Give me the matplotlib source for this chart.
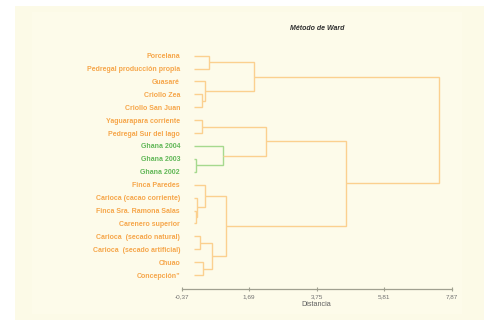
import matplotlib
matplotlib.use("Agg")
import matplotlib.pyplot as plt
from matplotlib.patches import Rectangle

labels = ["Porcelana", "Pedregal producción propia", "Guasaré", "Criollo Zea",
          "Criollo San Juan", "Yaguarapara corriente", "Pedregal Sur del lago",
          "Ghana 2004", "Ghana 2003", "Ghana 2002", "Finca Paredes",
          "Carioca (cacao corriente)", "Finca Sra. Ramona Salas", "Carenero superior",
          "Carioca  (secado natural)", "Carioca  (secado artificial)", "Chuao",
          "Concepción\u201d"]
leaf_green = [7, 8, 9]
# merges: (child_a, child_b, height); new node ids start at len(labels)
merges = [(3, 4, 0.24), (2, 18, 0.35), (0, 1, 0.47), (20, 19, 1.85),
          (5, 6, 0.24), (8, 9, 0.07), (7, 23, 0.90), (22, 24, 2.19),
          (12, 13, 0.07), (11, 26, 0.11), (10, 27, 0.34), (14, 15, 0.18),
          (16, 17, 0.29), (29, 30, 0.56), (28, 31, 0.97), (25, 32, 4.63),
          (21, 33, 7.49)]
green_nodes = [23, 24]
xticks = [-0.37, 1.69, 3.75, 5.81, 7.87]
xticklabels = ["-0,37", "1,69", "3,75", "5,81", "7,87"]

ORANGE_LINE = "#fbd08f"
ORANGE_TXT = "#f6a64a"
GREEN_LINE = "#a6d98e"
GREEN_TXT = "#62b858"
BG = "#fdfbea"

W, H = 484, 320
fig = plt.figure(figsize=(W / 100, H / 100), dpi=100)
fig.patch.set_facecolor("white")
fig.patches.append(Rectangle((15 / W, 0), 1 - 15 / W, 1 - 6 / H, transform=fig.transFigure,
                             facecolor="#fcfae7", edgecolor="none", zorder=-5))
fig.patches.append(Rectangle((32 / W, 6 / H), (462 - 32) / W, (308 - 6) / H,
                             transform=fig.transFigure, facecolor=BG, edgecolor="none", zorder=-4))

left, right, top, bottom = 181.7, 451.7, 40.0, 289.3
ax = fig.add_axes([left / W, 1 - bottom / H, (right - left) / W, (bottom - top) / H])
ax.set_facecolor("none")
ax.set_zorder(5)

n = len(labels)
pos = {i: float(i) for i in range(n)}
hgt = {i: 0.0 for i in range(n)}
for k, (a, b, h) in enumerate(merges):
    node = n + k
    col = GREEN_LINE if node in green_nodes else ORANGE_LINE
    ya, yb = pos[a], pos[b]
    ax.plot([hgt[a], h, h, hgt[b]], [ya, ya, yb, yb], color=col, lw=1.0,
            solid_joinstyle="miter", solid_capstyle="butt")
    pos[node] = (ya + yb) / 2
    hgt[node] = h

ax.set_xlim(-0.37, 7.87)
y0 = (top - 55.7) / 12.9
y1 = (bottom - 55.7) / 12.9
ax.set_ylim(y1, y0)

ax.set_yticks(range(n))
ax.set_yticklabels(labels)
for i, t in enumerate(ax.get_yticklabels()):
    t.set_color(GREEN_TXT if i in leaf_green else ORANGE_TXT)
    t.set_fontweight("bold")
    t.set_fontfamily("Liberation Sans")
    t.set_fontsize(5.0)
ax.tick_params(axis="y", length=0, pad=1.2)

ax.set_xticks(xticks)
ax.set_xticklabels(xticklabels, fontsize=4.6, color="#707070", family="Liberation Sans")
ax.tick_params(axis="x", direction="inout", length=3, width=0.8, color="#a0a090", pad=2)

for s in ["top", "right", "left"]:
    ax.spines[s].set_visible(False)
ax.spines["bottom"].set_color("#a0a090")
ax.spines["bottom"].set_linewidth(0.9)

ax.set_xlabel("Distancia", fontsize=5.2, color="#606060", family="Liberation Sans", labelpad=1)
fig.text((left + right) / 2 / W, 1 - 28 / H, "Método de Ward", ha="center", va="center",
         fontsize=5.0, fontweight="bold", fontstyle="italic", family="Liberation Sans",
         color="#303030")

fig.savefig("out.png", dpi=100, facecolor=fig.get_facecolor())
